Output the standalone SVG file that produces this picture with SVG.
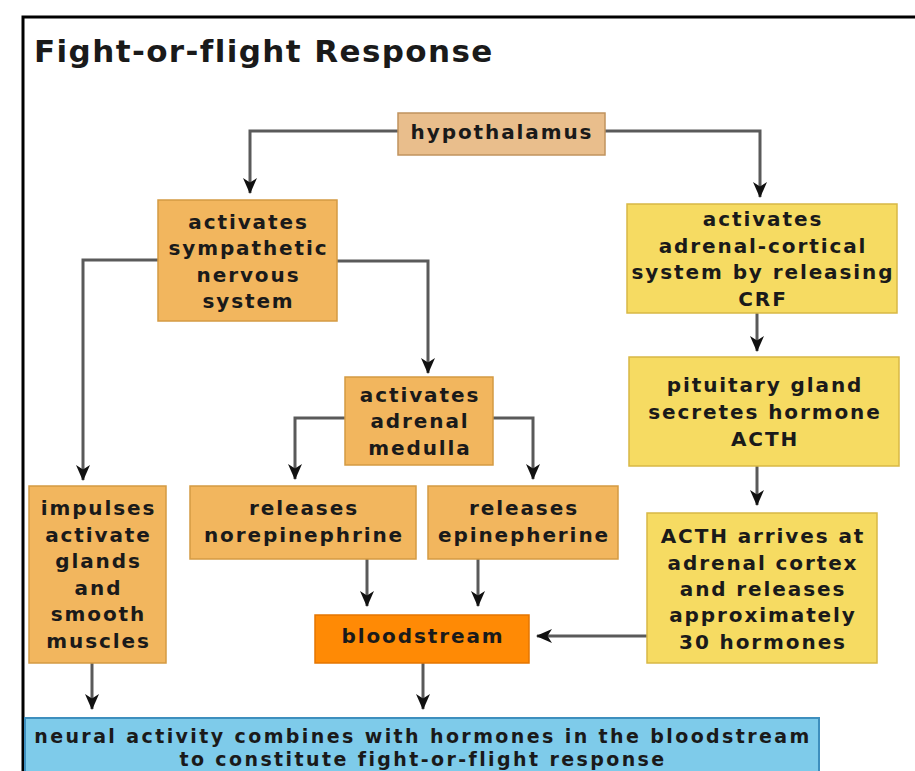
<svg xmlns="http://www.w3.org/2000/svg" width="915" height="771" viewBox="0 0 915 771">
<defs>
<marker id="ah" viewBox="0 0 16 16" refX="15" refY="8" markerWidth="16" markerHeight="16" markerUnits="userSpaceOnUse" orient="auto">
<path d="M0,1 L16,8 L0,15 L4.5,8 z" fill="#111"/>
</marker>
<style>
.t{font-family:"DejaVu Sans","Liberation Sans",sans-serif;font-weight:bold;font-size:20px;letter-spacing:1.9px;fill:#1a1a1a;text-anchor:middle}
.b{font-size:19px;letter-spacing:2.4px}
.c{fill:none;stroke:#5a5a5a;stroke-width:3}
.tan{fill:#E9BE8C;stroke:#C0935E;stroke-width:1.5}
.org{fill:#F2B65E;stroke:#D49A43;stroke-width:1.5}
.yel{fill:#F6DB62;stroke:#D8B845;stroke-width:1.5}
.bld{fill:#FF8A05;stroke:#E57500;stroke-width:1.5}
.blu{fill:#7ECBEA;stroke:#3E8FBE;stroke-width:2}
</style>
</defs>
<rect width="915" height="771" fill="#fff"/>
<path d="M23,771 V17 H915" fill="none" stroke="#000" stroke-width="3"/>
<text x="34" y="62" font-family="DejaVu Sans, Liberation Sans, sans-serif" font-weight="bold" font-size="31" letter-spacing="1.4" fill="#1a1a1a">Fight-or-flight Response</text>

<g id="connectors">
<path class="c" d="M398,131 H250 V193" marker-end="url(#ah)"/>
<path class="c" d="M605,131 H760 V197" marker-end="url(#ah)"/>
<path class="c" d="M158,260 H83 V480" marker-end="url(#ah)"/>
<path class="c" d="M337,261 H428 V373" marker-end="url(#ah)"/>
<path class="c" d="M345,418 H295 V479" marker-end="url(#ah)"/>
<path class="c" d="M493,418 H533 V479" marker-end="url(#ah)"/>
<path class="c" d="M757,313 V351" marker-end="url(#ah)"/>
<path class="c" d="M757,466 V505" marker-end="url(#ah)"/>
<path class="c" d="M647,636 H537" marker-end="url(#ah)"/>
<path class="c" d="M367,559 V606" marker-end="url(#ah)"/>
<path class="c" d="M478,559 V606" marker-end="url(#ah)"/>
<path class="c" d="M92,663 V709" marker-end="url(#ah)"/>
<path class="c" d="M423,663 V709" marker-end="url(#ah)"/>
</g>

<g id="hypothalamus">
<rect class="tan" x="398" y="113" width="207" height="42"/>
<text class="t" x="502" y="139">hypothalamus</text>
</g>

<g id="sympathetic">
<rect class="org" x="158" y="200" width="179" height="121"/>
<text class="t" x="248.5" y="229">activates</text>
<text class="t" x="248.5" y="255">sympathetic</text>
<text class="t" x="248.5" y="282">nervous</text>
<text class="t" x="248.5" y="308">system</text>
</g>

<g id="adrenal-cortical">
<rect class="yel" x="627" y="204" width="270" height="109"/>
<text class="t" x="763" y="226">activates</text>
<text class="t" x="763" y="253">adrenal-cortical</text>
<text class="t" x="763" y="279">system by releasing</text>
<text class="t" x="763" y="306">CRF</text>
</g>

<g id="adrenal-medulla">
<rect class="org" x="345" y="377" width="148" height="88"/>
<text class="t" x="420" y="402">activates</text>
<text class="t" x="420" y="428">adrenal</text>
<text class="t" x="420" y="455">medulla</text>
</g>

<g id="pituitary">
<rect class="yel" x="629" y="357" width="270" height="109"/>
<text class="t" x="765" y="392">pituitary gland</text>
<text class="t" x="765" y="419">secretes hormone</text>
<text class="t" x="765" y="446">ACTH</text>
</g>

<g id="impulses">
<rect class="org" x="29" y="486" width="137" height="177"/>
<text class="t" x="98.5" y="515">impulses</text>
<text class="t" x="98.5" y="542">activate</text>
<text class="t" x="98.5" y="568">glands</text>
<text class="t" x="98.5" y="595">and</text>
<text class="t" x="98.5" y="621">smooth</text>
<text class="t" x="98.5" y="648">muscles</text>
</g>

<g id="norepinephrine">
<rect class="org" x="190" y="486" width="226" height="73"/>
<text class="t" x="304" y="515">releases</text>
<text class="t" x="304" y="542">norepinephrine</text>
</g>

<g id="epinepherine">
<rect class="org" x="428" y="486" width="190" height="73"/>
<text class="t" x="524" y="515">releases</text>
<text class="t" x="524" y="542">epinepherine</text>
</g>

<g id="acth-arrives">
<rect class="yel" x="647" y="513" width="230" height="150"/>
<text class="t" x="763" y="543">ACTH arrives at</text>
<text class="t" x="763" y="570">adrenal cortex</text>
<text class="t" x="763" y="596">and releases</text>
<text class="t" x="763" y="622">approximately</text>
<text class="t" x="763" y="649">30 hormones</text>
</g>

<g id="bloodstream">
<rect class="bld" x="315" y="615" width="214" height="48"/>
<text class="t" x="423" y="643">bloodstream</text>
</g>

<g id="response">
<rect class="blu" x="25" y="718" width="794" height="70"/>
<text class="t b" x="423" y="743">neural activity combines with hormones in the bloodstream</text>
<text class="t b" x="423" y="766">to constitute fight-or-flight response</text>
</g>
</svg>
